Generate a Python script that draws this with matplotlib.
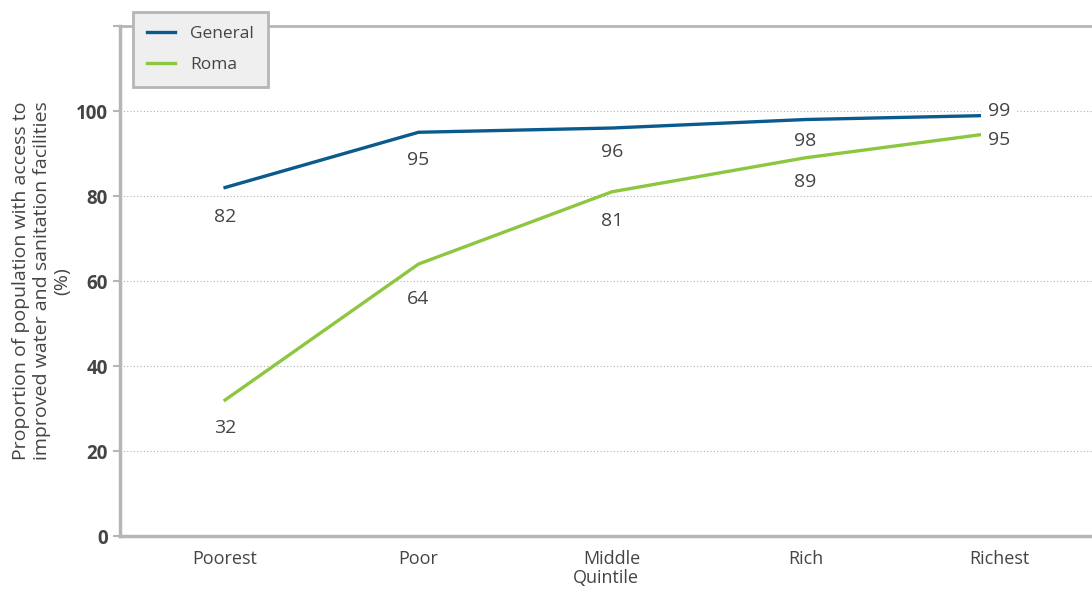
import matplotlib.pyplot as plt

# data
quintiles = ['Poorest', 'Poor', 'Middle', 'Rich', 'Richest']
general = [82, 95, 96, 98, 99]
roma = [32, 64, 81, 89, 95]

plt.rcParams['font.family'] = ['Open Sans', 'DejaVu Sans']
txt = '#444444'
grey = '#b4b6b8'

fig = plt.figure(figsize=(10.92, 5.90), dpi=100)
ax = fig.add_axes([0.1099, 0.0915, 0.890, 0.8644])

x = list(range(len(quintiles)))
ax.plot(x, general, color='#0b5a8e', lw=2.4, label='General')
ax.plot(x, roma, color='#8dc63f', lw=2.4, label='Roma')

# label offsets in pixels (layout only)
gen_off = [(0, -29), (0, -28), (0, -24), (0, -21), (0, 4)]
roma_off = [(0, -28), (0, -35), (0, -29), (0, -24), (0, -8)]
box = dict(boxstyle='square,pad=0.35', fc='white', ec='none')
last = len(x) - 1
for i in x:
    b = box if i == last else None
    ax.annotate(str(general[i]), (i, general[i]), xytext=gen_off[i],
                textcoords='offset pixels', ha='center', va='center',
                fontsize=14, color=txt, bbox=b, zorder=5)
    ax.annotate(str(roma[i]), (i, roma[i]), xytext=roma_off[i],
                textcoords='offset pixels', ha='center', va='center',
                fontsize=14, color=txt, bbox=b, zorder=5)

ax.set_xlim(-0.543, 4.48)
ax.set_ylim(0, 120)
ax.set_yticks([0, 20, 40, 60, 80, 100, 120])
ax.set_yticklabels(['0', '20', '40', '60', '80', '100', ''])
ax.set_xticks(x)
ax.set_xticklabels(quintiles, fontsize=13, color=txt)
for lab in ax.get_yticklabels():
    lab.set_fontsize(13.5)
    lab.set_fontweight('bold')
    lab.set_color(txt)
ax.tick_params(axis='y', length=5, color=grey, width=1.5, pad=4)
ax.tick_params(axis='x', length=0, pad=10)

ax.grid(axis='y', linestyle=(0, (1, 2)), color='#b0b0b0', lw=0.8)
ax.set_axisbelow(True)
for s in ['left', 'top', 'bottom']:
    ax.spines[s].set_color(grey)
ax.spines['left'].set_linewidth(2.5)
ax.spines['bottom'].set_linewidth(2.5)
ax.spines['top'].set_linewidth(2)
ax.spines['right'].set_visible(False)

ax.set_xlabel('Quintile', fontsize=13, color=txt, labelpad=1)
ax.set_ylabel('Proportion of population with access to\nimproved water and sanitation facilities\n(%)',
              fontsize=14, color=txt, labelpad=3, linespacing=1.2)

leg = ax.legend(loc='upper left', bbox_to_anchor=(0.0134, 1.0275), fontsize=12.5,
                frameon=True, fancybox=False, handlelength=1.6, borderpad=0.8,
                labelspacing=0.85, handletextpad=0.9, borderaxespad=0)
leg.get_frame().set_facecolor('#efefef')
leg.get_frame().set_edgecolor(grey)
leg.get_frame().set_linewidth(2)
leg.get_frame().set_alpha(1)
for t in leg.get_texts():
    t.set_color(txt)

fig.savefig('out.png', dpi=100)
